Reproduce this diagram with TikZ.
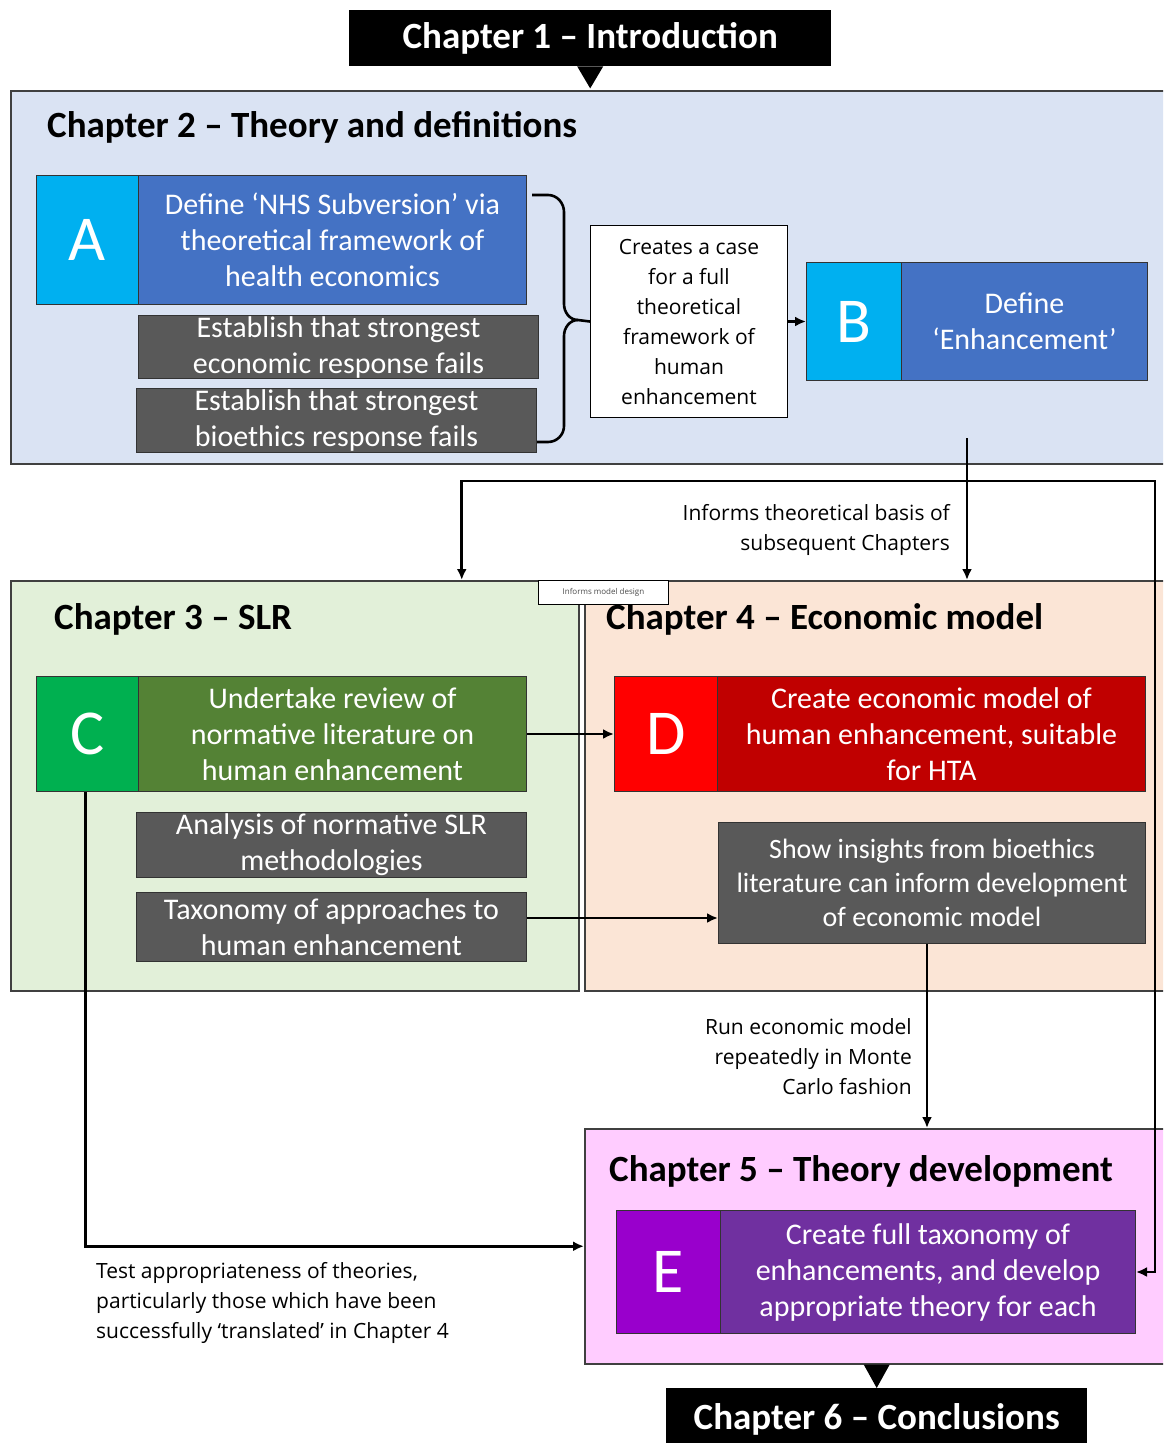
\documentclass[tikz,border=0pt]{standalone}
\usepackage{fontspec}
\setmainfont{Carlito}
\newfontfamily\notefont{Open Sans}
\usetikzlibrary{arrows.meta}

\definecolor{chtwofill}{HTML}{DAE3F3}
\definecolor{chthreefill}{HTML}{E2F0D9}
\definecolor{chfourfill}{HTML}{FBE5D6}
\definecolor{chfivefill}{HTML}{FFCCFF}
\definecolor{cyanA}{HTML}{00B0F0}
\definecolor{blueT}{HTML}{4472C4}
\definecolor{grayT}{HTML}{595959}
\definecolor{greenL}{HTML}{00B050}
\definecolor{greenT}{HTML}{548235}
\definecolor{redL}{HTML}{FF0000}
\definecolor{redT}{HTML}{C00000}
\definecolor{purpleL}{HTML}{9900CC}
\definecolor{purpleT}{HTML}{7030A0}

\begin{document}
\begin{tikzpicture}[x=1pt,y=-1pt,
  region/.style={draw=black!75, line width=1.5pt, anchor=north west, inner sep=0pt},
  chapbar/.style={fill=black, text=white, anchor=north west, inner sep=0pt, font=\bfseries\fontsize{37}{40}\selectfont},
  headline/.style={anchor=west, inner sep=0pt, font=\bfseries\fontsize{37}{40}\selectfont},
  letterbox/.style={draw=black!80, line width=1pt, anchor=north west, inner sep=0pt, text=white, font=\fontsize{64}{64}\selectfont},
  taskbox/.style={draw=black!80, line width=1pt, anchor=north west, inner sep=0pt, text=white, align=center, font=\fontsize{30}{36}\selectfont},
  note/.style={inner sep=0pt, font=\notefont\fontsize{21}{30}\selectfont},
  link/.style={line width=2.6pt, -{Latex[length=11pt,width=10pt]}},
]
\useasboundingbox (0,0) rectangle (1163,1443);
\clip (0,0) rectangle (1163,1443);

\node[region, fill=chtwofill, minimum width=1170pt, minimum height=373pt] (ch2) at (10,90) {};
\node[region, fill=chthreefill, minimum width=568pt, minimum height=410pt] (ch3) at (10,580) {};
\node[region, fill=chfourfill, minimum width=590pt, minimum height=410pt] (ch4) at (584,580) {};
\node[region, fill=chfivefill, minimum width=590pt, minimum height=235pt] (ch5) at (584,1128) {};

\node[chapbar, minimum width=482pt, minimum height=56pt] (ch1) at (349,10) {Chapter 1 -- Introduction};
\node[chapbar, minimum width=421pt, minimum height=62pt] (ch6) at (666,1388) {\raisebox{3pt}{Chapter 6 -- Conclusions}};
\fill ([xshift=-13pt]ch1.south) -- ([xshift=13pt]ch1.south) -- ([yshift=-22pt]ch1.south) -- cycle;
\fill ([xshift=-13pt]ch6.north |- ch5.south) -- ([xshift=13pt]ch6.north |- ch5.south) -- (ch6.north) -- cycle;

\node[headline] (ch2title) at (47,127) {Chapter 2 -- Theory and definitions};
\node[headline] (ch3title) at (54,619) {Chapter 3 -- SLR};
\node[headline] (ch4title) at (606,619) {Chapter 4 -- Economic model};
\node[headline] (ch5title) at (609,1171) {Chapter 5 -- Theory development};

\node[letterbox, fill=cyanA, minimum width=102pt, minimum height=129pt] (letA) at (36,175) {A};
\node[taskbox, fill=blueT, minimum width=388pt, minimum height=129pt] (defA) at (138,175) {Define ‘NHS Subversion’ via\\theoretical framework of\\health economics};
\node[taskbox, fill=grayT, minimum width=400pt, minimum height=63pt] (econfail) at (138,315) {Establish that strongest\\economic response fails};
\node[taskbox, fill=grayT, minimum width=400pt, minimum height=64pt] (bioefail) at (136,388) {Establish that strongest\\bioethics response fails};
\node[draw=black, line width=1pt, fill=white, anchor=north west, minimum width=197pt, minimum height=192pt, align=center, note] (case) at (590,225) {Creates a case\\for a full\\theoretical\\framework of\\human\\enhancement};
\node[letterbox, fill=cyanA, minimum width=95pt, minimum height=118pt] (letB) at (806,262) {B};
\node[taskbox, fill=blueT, minimum width=246pt, minimum height=118pt] (defB) at (901,262) {Define\\‘Enhancement’};

\node[letterbox, fill=greenL, minimum width=102pt, minimum height=115pt] (letC) at (36,676) {C};
\node[taskbox, fill=greenT, minimum width=388pt, minimum height=115pt] (defC) at (138,676) {Undertake review of\\normative literature on\\human enhancement};
\node[taskbox, fill=grayT, minimum width=390pt, minimum height=65pt] (slrmeth) at (136,812) {Analysis of normative SLR\\methodologies};
\node[taskbox, fill=grayT, minimum width=390pt, minimum height=69pt] (taxo) at (136,892) {Taxonomy of approaches to\\human enhancement};

\node[letterbox, fill=redL, minimum width=103pt, minimum height=115pt] (letD) at (614,676) {D};
\node[taskbox, fill=redT, minimum width=428pt, minimum height=115pt] (defD) at (717,676) {Create economic model of\\human enhancement, suitable\\for HTA};
\node[taskbox, fill=grayT, minimum width=427pt, minimum height=121pt, font=\fontsize{28}{34}\selectfont] (insight) at (718,822) {Show insights from bioethics\\literature can inform development\\of economic model};

\node[letterbox, fill=purpleL, minimum width=104pt, minimum height=123pt] (letE) at (616,1210) {E};
\node[taskbox, fill=purpleT, minimum width=415pt, minimum height=123pt] (defE) at (720,1210) {Create full taxonomy of\\enhancements, and develop\\appropriate theory for each};

\node[draw=black, line width=0.8pt, fill=white, anchor=north west, minimum width=130pt, minimum height=24pt, inner sep=0pt, text=black!70, font=\notefont\fontsize{8}{9}\selectfont] (modeldesign) at (538,580) {Informs model design};

\node[note, anchor=east, align=right] (basisnote) at (950,530) {Informs theoretical basis of\\subsequent Chapters};
\node[note, anchor=east, align=right] (montenote) at (912,1057) {Run economic model\\repeatedly in Monte\\Carlo fashion};
\node[note, anchor=west, align=left] (testnote) at (96,1303) {Test appropriateness of theories,\\particularly those which have been\\successfully ‘translated’ in Chapter 4};

\coordinate (bracetop) at (532,195);
\coordinate (bracebot) at (537,442);
\coordinate (bracetip) at (578,320);
\coordinate (informs) at (967,438);
\coordinate (sidebend) at (1155,481);

\draw[line width=2.6pt] (bracetop) -- (548,195) to[out=0,in=90] (564,212) -- (564,304) to[out=-90,in=180] (bracetip) -- (case.west);
\draw[line width=2.6pt] (bracebot) -- (548,442) to[out=0,in=-90] (564,426) -- (564,336) to[out=90,in=180] (bracetip);
\draw[link] (case.east) -- (letB.west);
\draw[link] (informs) -- (informs |- ch4.north);
\draw[link, {Latex[length=11pt,width=10pt]}-{Latex[length=11pt,width=10pt]}] ([xshift=167pt]ch3.north) |- (sidebend) |- (defE.east);
\draw[link] (defC.east) -- (letD.west);
\draw[link] ([yshift=9pt]taxo.east) -- ([yshift=9pt]taxo.east -| insight.west);
\draw[link] ([xshift=-5pt]insight.south) -- ([xshift=-5pt]insight.south |- ch5.north);
\draw[link] ([xshift=-2pt]letC.south) |- (ch5.west);

\end{tikzpicture}
\end{document}
